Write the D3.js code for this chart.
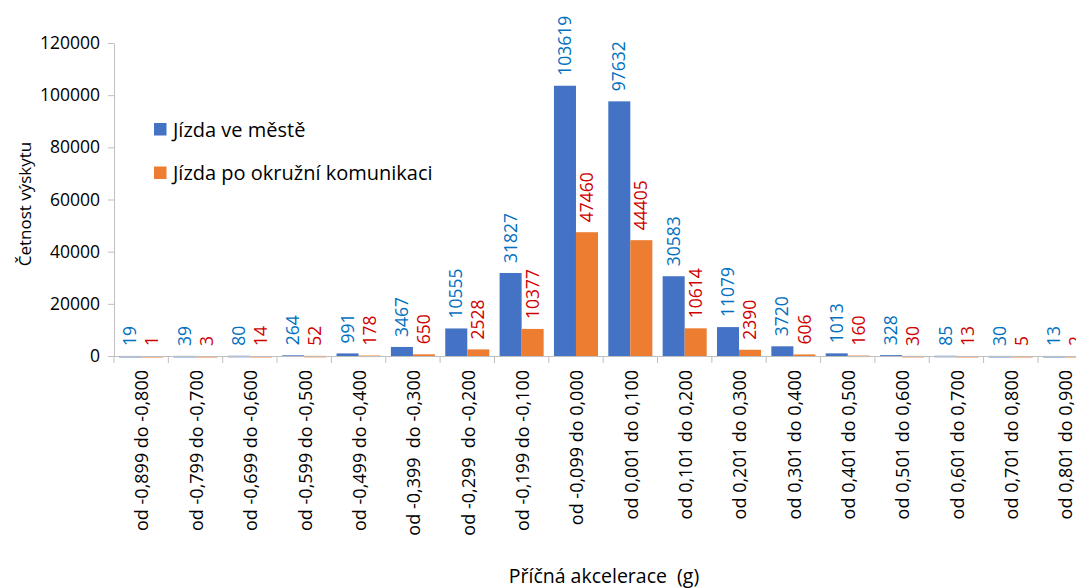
<!DOCTYPE html>
<html>
<head>
<meta charset="utf-8">
<script src="https://cdn.jsdelivr.net/npm/d3@7"></script>
<style>
	body { margin: 0; background: #fff; }
	svg { display: block; font-family: "Open Sans", sans-serif; }
	text { white-space: pre; }
</style>
</head>
<body>
<svg id="chart" width="1076" height="588"></svg>
<script>
// categories (bins of lateral acceleration)
const categories = [
	"od -0,899 do -0,800", "od -0,799 do -0,700", "od -0,699 do -0,600",
	"od -0,599 do -0,500", "od -0,499 do -0,400", "od -0,399  do -0,300",
	"od -0,299  do -0,200", "od -0,199 do -0,100", "od -0,099 do 0,000",
	"od 0,001 do 0,100", "od 0,101 do 0,200", "od 0,201 do 0,300",
	"od 0,301 do 0,400", "od 0,401 do 0,500", "od 0,501 do 0,600",
	"od 0,601 do 0,700", "od 0,701 do 0,800", "od 0,801 do 0,900"
];
const seriesNames = ["Jízda ve městě", "Jízda po okružní komunikaci"];
const cityValues = [19, 39, 80, 264, 991, 3467, 10555, 31827, 103619, 97632, 30583, 11079, 3720, 1013, 328, 85, 30, 13];
const ringValues = [1, 3, 14, 52, 178, 650, 2528, 10377, 47460, 44405, 10614, 2390, 606, 160, 30, 13, 5, 2];
const yTicks = [0, 20000, 40000, 60000, 80000, 100000, 120000];

const barColors = ["#4472C4", "#ED7D31"];
const labelColors = ["#0070C0", "#D00000"];

const svg = d3.select("#chart");

const x = d3.scaleBand()
	.domain(categories)
	.range([114, 114 + 18 * 54.35])
	.paddingInner(0)
	.paddingOuter(0);

const xSub = d3.scaleBand()
	.domain(seriesNames)
	.range([0, x.bandwidth()])
	.paddingInner(0)
	.paddingOuter(0.234);

const y = d3.scaleLinear()
	.domain([0, 120000])
	.range([356, 43]);

// y axis
const yAxis = svg.append("g")
	.attr("transform", "translate(114,0)")
	.call(d3.axisLeft(y).tickValues(yTicks).tickFormat(d3.format("d")).tickSize(6).tickSizeOuter(0));
yAxis.select(".domain").attr("stroke", "#BFBFBF");
yAxis.selectAll(".tick line").attr("stroke", "#BFBFBF");
yAxis.selectAll(".tick text")
	.attr("x", -14)
	.attr("fill", "#000")
	.style("font-family", "'Open Sans', sans-serif")
	.style("font-size", "17.5px");

// bars
const data = categories.map((c, i) => ({cat: c, values: [cityValues[i], ringValues[i]]}));

const groups = svg.append("g").selectAll("g")
	.data(data)
	.join("g")
	.attr("transform", d => `translate(${x(d.cat)},0)`);

groups.selectAll("rect")
	.data(d => d.values.map((v, k) => ({name: seriesNames[k], v: v, k: k})))
	.join("rect")
	.attr("x", d => xSub(d.name))
	.attr("width", xSub.bandwidth())
	.attr("y", d => y(d.v))
	.attr("height", d => Math.max(y(0) - y(d.v), 1.5))
	.attr("fill", d => barColors[d.k]);

// value labels
groups.selectAll("text.val")
	.data(d => d.values.map((v, k) => ({name: seriesNames[k], v: v, k: k})))
	.join("text")
	.attr("class", "val")
	.attr("transform", d => `translate(${xSub(d.name) + xSub.bandwidth() / 2},${y(d.v) - 10}) rotate(-90)`)
	.attr("dy", "0.35em")
	.attr("text-anchor", "start")
	.attr("fill", d => labelColors[d.k])
	.style("font-size", "17.5px")
	.text(d => d.v);

// x axis line and ticks between categories
svg.append("line")
	.attr("x1", x.range()[0]).attr("x2", 1076)
	.attr("y1", y(0) + 0.5).attr("y2", y(0) + 0.5)
	.attr("stroke", "#BFBFBF");

const boundaries = categories.map(c => x(c)).concat([x.range()[1]]);
svg.append("g").selectAll("line")
	.data(boundaries)
	.join("line")
	.attr("x1", d => d).attr("x2", d => d)
	.attr("y1", y(0)).attr("y2", y(0) + 7)
	.attr("stroke", "#BFBFBF");

svg.append("g").selectAll("text")
	.data(categories)
	.join("text")
	.attr("transform", d => `translate(${x(d) + x.bandwidth() / 2 + 1},370) rotate(-90)`)
	.attr("dy", "0.35em")
	.attr("text-anchor", "end")
	.attr("fill", "#000")
	.style("font-size", "18px")
	.text(d => d);

// axis titles
svg.append("text")
	.attr("x", 604)
	.attr("y", 583)
	.attr("text-anchor", "middle")
	.attr("fill", "#000")
	.style("font-size", "19.5px")
	.text("Příčná akcelerace  (g)");

svg.append("text")
	.attr("transform", "translate(31,204) rotate(-90)")
	.attr("text-anchor", "middle")
	.attr("fill", "#000")
	.style("font-size", "17px")
	.text("Četnost výskytu");

// legend
const legend = svg.append("g").selectAll("g")
	.data(seriesNames)
	.join("g")
	.attr("transform", (d, i) => `translate(154,${123 + i * 43.5})`);
legend.append("rect")
	.attr("width", 12.5).attr("height", 12.5)
	.attr("fill", (d, i) => barColors[i]);
legend.append("text")
	.attr("x", 19)
	.attr("y", 6.5)
	.attr("dy", "0.35em")
	.attr("fill", "#000")
	.style("font-size", "20px")
	.text(d => d);
</script>
</body>
</html>
